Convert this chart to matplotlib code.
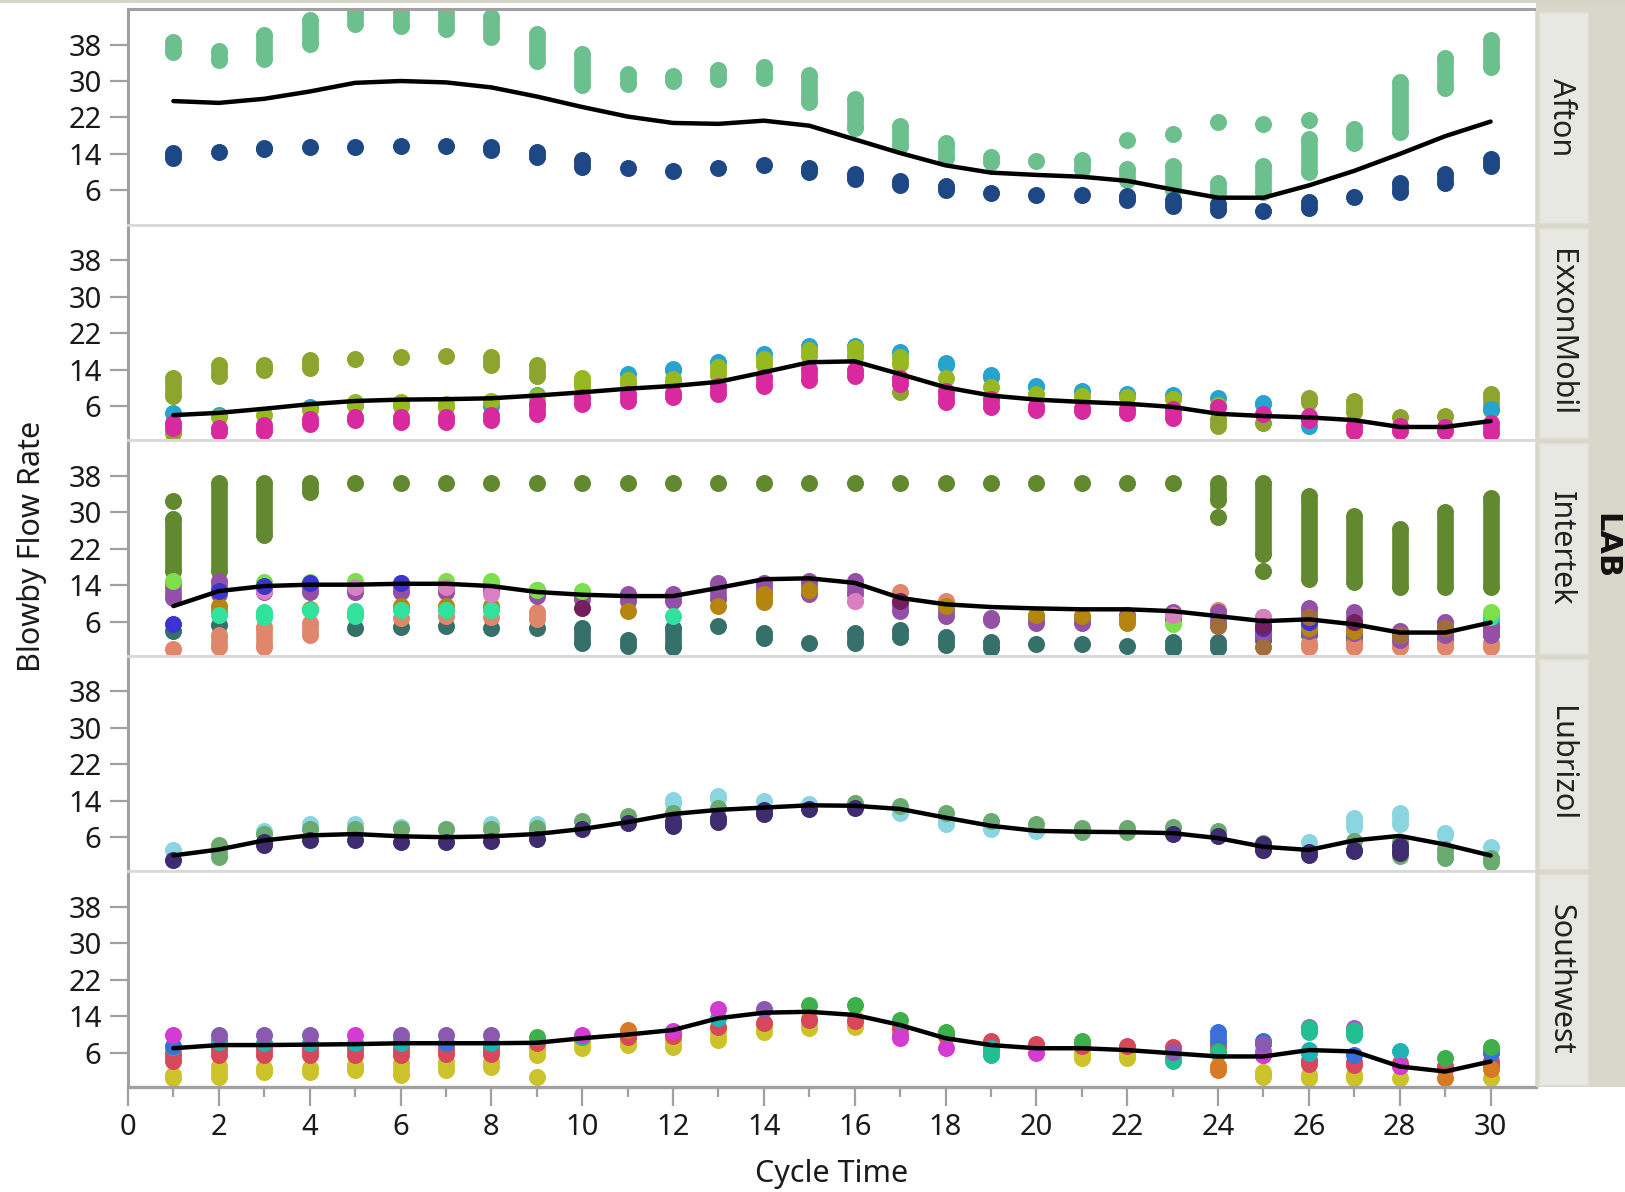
import numpy as np
import matplotlib
matplotlib.use("Agg")
import matplotlib.pyplot as plt
from matplotlib.patches import Rectangle

plt.rcParams['font.family'] = ['Noto Sans', 'DejaVu Sans']

# ---------------- data ----------------
cycles = list(range(1, 31))
labs = ["Afton", "ExxonMobil", "Intertek", "Lubrizol", "Southwest"]
y_ticks = [6, 14, 22, 30, 38]
x_major = list(range(0, 31, 2))
x_minor = list(range(1, 30, 2))

# --- Afton ---
afton_green_lo = [36.4,34.6,34.8,38.2,42.6,42.1,41.4,39.6,34.3,29.1,29.3,30.0,30.5,30.6,25.4,19.7,15.8,13.1,12.2,12.5,10.8,8.3,6.0,5.6,5.6,10.1,16.3,18.8,28.4,33.0]
afton_green_hi = [38.5,36.6,40.1,43.4,45.0,45.0,45.0,44.0,40.3,35.9,31.6,31.1,32.4,33.0,31.4,26.1,20.2,16.3,13.3,12.5,12.6,10.8,11.3,7.6,11.4,17.2,19.4,29.8,35.0,38.9]
afton_green_out_x = [22, 23, 24, 25, 26]
afton_green_out_y = [17.0, 18.3, 20.9, 20.6, 21.5]
afton_blue_lo = [13.2,14.5,15.0,15.5,15.6,15.7,15.7,14.8,13.4,11.2,11.0,10.3,11.0,11.5,10.0,8.5,7.2,6.0,5.5,5.0,4.9,3.8,2.5,1.6,1.5,2.2,4.6,5.6,7.7,11.3]
afton_blue_hi = [14.2,14.5,15.4,15.5,15.6,15.7,15.7,15.5,14.4,12.6,11.0,10.3,11.0,11.5,11.0,9.5,8.0,7.0,5.5,5.0,4.9,4.8,3.9,3.0,1.5,3.5,4.6,7.6,9.5,12.8]
afton_smooth = [25.6,25.2,26.1,27.7,29.6,30.0,29.7,28.6,26.6,24.3,22.2,20.8,20.6,21.3,20.2,17.2,14.2,11.5,9.9,9.4,9.0,8.1,6.2,4.4,4.4,7.1,10.3,14.0,17.9,21.1]

# --- ExxonMobil ---
exx_olive_x = [1,2,3,4,5,6,7,8,9]
exx_olive_lo = [8.1,12.5,13.8,14.3,16.3,16.7,17.0,15.0,12.5]
exx_olive_hi = [12.2,14.9,14.9,16.2,16.3,16.7,17.0,16.7,14.9]
exx_olive2_x = [1,17,24,25,26,27,28,29,30]
exx_olive2_lo = [0.0,9.0,1.6,2.2,6.9,4.7,3.5,3.8,5.1]
exx_olive2_hi = [0.0,9.0,3.1,2.2,7.8,7.2,3.5,3.8,8.7]
exx_lime_x = [2,3,4,5,6,7,8,9,10,11,12,13,14,15,16,17,18,19,20,21,22,23,24]
exx_lime_lo = [3.5,4.0,5.1,6.3,6.1,5.8,7.2,6.2,10.5,10.9,11.2,12.7,14.9,17.0,16.7,15.2,12.2,10.1,8.7,8.3,8.0,7.6,6.2]
exx_lime_hi = [3.5,4.0,5.1,6.9,6.9,6.5,7.2,8.3,12.2,11.6,12.0,14.5,16.3,18.3,18.7,16.8,12.2,10.1,8.7,8.3,8.0,7.6,6.2]
exx_cyan_x = [1,2,4,5,8,9,10,11,12,13,14,15,16,17,18,19,20,21,22,23,24,25,26,30]
exx_cyan_lo = [4.5,4.0,5.8,6.3,6.1,8.4,11.0,13.0,13.8,15.6,17.4,19.1,19.2,17.8,14.9,12.3,10.1,9.3,8.7,8.5,7.8,6.5,1.6,5.4]
exx_cyan_hi = [4.5,4.0,5.8,6.3,6.1,8.4,11.0,13.0,14.1,15.6,17.4,19.1,19.2,17.8,15.4,12.7,10.4,9.3,8.7,8.5,7.8,6.7,1.6,5.4]
exx_mag_lo = [1.1,0.3,0.6,2.0,2.9,2.5,2.5,2.9,4.3,6.5,7.2,8.0,8.7,10.5,11.6,12.5,10.9,6.9,5.8,5.2,4.8,4.5,3.4,5.8,4.3,2.9,0.6,0.5,0.6,0.0]
exx_mag_hi = [2.2,1.1,1.8,3.2,3.6,3.6,3.6,4.0,6.5,8.0,8.7,8.8,10.5,12.3,14.1,14.0,12.2,9.3,7.5,6.0,5.6,5.3,5.3,5.8,4.3,3.8,1.6,1.6,1.4,2.2]
exx_smooth = [4.0,4.5,5.4,6.4,7.1,7.4,7.5,7.7,8.3,9.0,9.8,10.4,11.3,13.4,15.6,15.8,13.0,10.1,8.3,7.4,6.9,6.5,5.8,4.3,3.8,3.5,2.9,1.4,1.4,2.7]

# --- Intertek ---
int_olive_lo = [17.2,17.2,25.1,34.5,36.5,36.5,36.5,36.5,36.5,36.5,36.5,36.5,36.5,36.5,36.5,36.5,36.5,36.5,36.5,36.5,36.5,36.5,36.5,32.7,20.8,15.3,14.6,13.5,13.5,13.5]
int_olive_hi = [28.5,36.4,36.4,36.4,36.5,36.5,36.5,36.5,36.5,36.5,36.5,36.5,36.5,36.5,36.5,36.5,36.5,36.5,36.5,36.5,36.5,36.5,36.5,36.4,36.4,33.5,29.2,26.4,30.0,33.2]
int_olive_dot_x = [1, 24, 25]
int_olive_dot_y = [32.4, 29.0, 17.2]
int_teal_x = [1,2,5,6,7,8,9,10,11,12,13,14,15,16,17,18,19,20,21,22,23,24,25,26,27,29,30]
int_teal_lo = [4.0,5.3,4.7,4.9,5.1,4.7,4.7,1.2,0.6,0.5,5.0,2.4,1.4,1.2,2.7,0.9,0.3,1.0,1.0,0.7,0.3,0.3,2.0,3.0,2.0,2.0,3.0]
int_teal_hi = [4.0,5.3,4.7,4.9,5.1,4.7,4.7,4.5,2.0,4.5,5.0,3.6,1.4,3.6,4.2,2.7,1.5,1.0,1.0,0.7,1.6,1.6,4.0,5.0,3.0,2.0,5.0]
int_salmon_x = [1,2,3,4,5,6,7,8,9,14,16,17,18,24,26,27,28,29,30]
int_salmon_lo = [0.0,0.5,0.5,3.0,7.5,6.9,7.2,7.0,6.5,11.5,10.5,12.6,10.5,8.5,0.5,0.5,0.5,0.5,0.5]
int_salmon_hi = [0.0,3.1,4.9,5.6,7.5,6.9,7.2,7.0,8.0,11.5,10.5,12.6,10.5,8.5,1.2,1.2,1.2,1.2,1.2]
int_gold_x = [2,4,6,7,8,11,13,14,15,18,20,21,22,26,27,28,29]
int_gold_lo = [8.3,8.7,8.7,8.7,8.7,8.3,9.5,10.3,12.9,9.5,7.5,7.2,5.6,4.5,4.0,3.0,4.5]
int_gold_hi = [9.4,8.7,9.4,9.4,9.4,8.3,9.5,12.0,12.9,9.5,7.5,7.2,6.9,4.5,4.0,3.0,4.5]
int_purple_lo = [11.2,12.0,12.4,12.4,12.4,12.4,12.5,12.4,11.6,11.0,10.5,10.5,11.0,12.0,12.0,12.0,8.3,7.2,6.3,5.6,5.6,6.5,6.3,5.0,3.0,4.0,3.5,2.0,3.0,3.0]
int_purple_hi = [14.8,15.0,14.2,14.0,14.0,14.5,14.5,14.0,13.0,12.5,12.0,12.0,14.5,14.5,15.0,15.0,9.8,8.7,6.9,7.3,7.3,7.5,8.0,8.0,7.0,9.0,8.0,4.0,6.0,7.0]
int_blue_x = [1,2,3,4,6,25,26]
int_blue_y = [5.5,12.7,13.8,14.5,14.5,4.5,6.0]
int_pink_x = [3,5,7,8,16,23,25]
int_pink_y = [12.8,13.5,13.5,12.0,10.5,7.5,7.0]
int_mint_x = [2,3,4,5,6,7,8,12,28,30]
int_mint_lo = [7.5,7.0,8.5,7.3,8.5,8.5,8.5,7.2,3.0,7.0]
int_mint_hi = [7.5,8.2,8.5,8.3,8.5,8.5,8.5,7.2,3.0,7.0]
int_lime_x = [1,3,4,5,7,8,9,10,23,30]
int_lime_y = [15.0,14.8,14.8,15.0,15.0,15.0,13.0,12.8,5.4,8.0]
int_plum_x = [10,17,25,27]
int_plum_y = [9.0,10.5,5.0,6.0]
int_brown_x = [24,25,26,28,29]
int_brown_y = [5.0,0.5,7.0,3.0,4.5]
int_smooth = [9.4,12.7,13.8,14.1,14.1,14.3,14.3,13.8,12.5,11.9,11.6,11.6,13.4,15.3,15.5,14.5,11.2,9.8,9.2,8.9,8.7,8.7,8.3,7.2,6.1,6.5,5.4,3.6,3.6,5.8]

# --- Lubrizol ---
lub_cyan_x = [1,3,4,5,6,7,8,9,12,13,14,15,17,18,19,20,26,27,28,29,30]
lub_cyan_lo = [3.1,7.4,8.8,8.8,8.2,7.8,8.8,8.8,13.6,14.7,14.0,13.2,11.4,8.9,7.8,7.3,4.9,8.3,9.0,6.5,3.8]
lub_cyan_hi = [3.1,7.4,8.8,8.8,8.2,7.8,8.8,8.8,14.2,15.0,14.0,13.2,11.4,10.0,7.8,7.3,4.9,10.2,11.3,6.9,3.8]
lub_green_x = [2,3,4,5,6,7,8,9,10,11,12,13,16,17,18,19,20,21,22,23,24,25,27,28,29,30]
lub_green_lo = [1.7,6.8,7.9,7.9,7.9,7.9,7.9,7.6,9.5,10.7,11.4,12.5,13.6,12.9,11.4,9.6,8.8,7.2,7.1,8.2,7.4,3.2,5.1,1.8,1.4,0.6]
lub_green_hi = [4.2,6.8,7.9,7.9,7.9,7.9,7.9,8.0,9.5,10.7,11.4,12.5,13.6,12.9,11.4,9.6,8.8,8.0,8.0,8.2,7.4,4.8,5.1,4.9,3.5,1.5]
lub_purple_x = [1,3,4,5,6,7,8,9,10,11,12,13,14,15,16,23,24,25,26,27,28]
lub_purple_lo = [0.9,4.2,5.3,5.3,4.9,4.9,5.1,5.6,7.7,9.1,8.5,9.4,11.1,12.2,12.5,6.6,6.2,3.2,2.0,2.9,2.5]
lub_purple_hi = [0.9,4.9,5.3,5.3,4.9,4.9,5.1,5.6,7.7,9.1,9.6,10.3,12.0,12.2,12.5,6.6,6.2,4.5,2.7,3.3,4.0]
lub_smooth = [2.0,3.3,5.3,6.4,6.7,6.2,6.0,6.2,6.7,7.8,9.3,11.1,12.0,12.5,13.0,12.9,12.2,10.3,8.5,7.4,7.2,7.1,6.9,5.8,3.9,3.2,5.3,6.3,4.4,2.0]

# --- Southwest ---
sw_yellow_x = [1,2,3,4,5,6,7,8,9,10,11,12,13,14,15,16,21,22,25,26,27,28,30]
sw_yellow_lo = [0.4,0.8,1.9,1.9,2.2,1.1,2.2,2.9,5.5,7.0,7.7,7.3,8.8,10.6,11.4,11.7,4.9,4.9,0.6,0.4,0.4,0.4,0.4]
sw_yellow_hi = [1.1,3.0,2.6,2.6,3.3,3.7,4.0,4.0,7.0,8.5,8.8,8.8,11.4,12.5,13.6,13.6,5.9,5.9,1.9,1.1,1.1,0.4,0.4]
sw_yellow_dot_x = [9, 17, 18]
sw_yellow_dot_y = [0.6, 11.0, 9.5]
sw_red_lo = [4.1,5.5,5.5,5.5,5.5,5.5,5.7,5.7,8.1,9.5,9.5,9.6,11.7,12.5,13.2,13.0,11.5,9.8,8.5,8.0,7.5,7.5,7.2,7.5,5.5,3.5,3.3,3.0,2.5,3.3]
sw_red_hi = [5.9,7.0,7.0,7.0,7.0,7.0,7.0,7.0,8.1,9.5,9.5,10.2,11.7,12.5,13.2,13.0,11.5,9.8,8.5,8.0,7.5,7.5,7.2,7.5,5.5,4.5,4.0,3.7,3.2,4.1]
sw_teal_x = [1,2,3,4,5,6,7,8,10,13,19,25,26,28,30]
sw_teal_lo = [7.3,8.3,8.1,8.1,8.1,8.1,8.1,8.1,9.5,13.6,6.8,6.5,5.9,6.3,6.6]
sw_teal_hi = [7.3,8.8,8.1,8.1,8.1,8.8,8.1,8.1,9.5,13.6,7.0,6.5,6.6,6.3,6.6]
sw_blue_x = [1,7,24,25,27,30]
sw_blue_lo = [7.6,8.1,8.6,8.7,5.5,5.9]
sw_blue_hi = [7.6,8.1,10.6,8.7,5.5,5.9]
sw_mag_x = [1,5,10,12,13,17,18,20,25,26,27,28]
sw_mag_lo = [9.9,9.9,9.9,10.8,15.7,9.2,7.0,5.9,5.5,11.7,11.4,3.0]
sw_mag_hi = [9.9,9.9,9.9,10.8,15.7,9.8,7.0,5.9,5.5,11.7,11.4,3.0]
sw_green_x = [9,15,16,17,18,21,24,29,30]
sw_green_y = [9.5,16.5,16.5,13.2,10.6,8.6,6.5,4.8,7.2]
sw_tgreen_x = [19,23,24,26,27]
sw_tgreen_lo = [5.5,4.2,6.0,10.6,9.9]
sw_tgreen_hi = [6.6,4.8,6.0,11.4,11.0]
sw_orange_x = [11,24,29,30]
sw_orange_lo = [11.0,2.3,0.4,2.5]
sw_orange_hi = [11.0,3.0,0.4,2.5]
sw_purple_x = [2,3,4,6,7,8,14,23,25]
sw_purple_y = [9.9,9.9,9.9,9.9,9.9,9.9,15.7,6.2,8.0]
sw_smooth = [7.0,7.7,7.7,7.8,7.9,8.1,8.1,8.1,8.2,9.2,10.0,11.0,13.6,14.8,15.0,14.3,12.1,9.2,7.7,7.0,7.0,6.6,5.9,5.2,5.2,6.6,6.3,3.0,1.9,4.1]

# --------------- series per panel (colour, x, lo, hi) ---------------
panels = [
    ([("#6CC08E", cycles, afton_green_lo, afton_green_hi),
      ("#6CC08E", afton_green_out_x, afton_green_out_y, afton_green_out_y),
      ("#1D4785", cycles, afton_blue_lo, afton_blue_hi)], afton_smooth),
    ([("#8DA42E", exx_olive_x, exx_olive_lo, exx_olive_hi),
      ("#8DA42E", exx_olive2_x, exx_olive2_lo, exx_olive2_hi),
      ("#27A3CF", exx_cyan_x, exx_cyan_lo, exx_cyan_hi),
      ("#95B91F", exx_lime_x, exx_lime_lo, exx_lime_hi),
      ("#D82A9E", cycles, exx_mag_lo, exx_mag_hi)], exx_smooth),
    ([("#62892F", cycles, int_olive_lo, int_olive_hi),
      ("#62892F", int_olive_dot_x, int_olive_dot_y, int_olive_dot_y),
      ("#35706A", int_teal_x, int_teal_lo, int_teal_hi),
      ("#E0866A", int_salmon_x, int_salmon_lo, int_salmon_hi),
      ("#9450A6", cycles, int_purple_lo, int_purple_hi),
      ("#B5860F", int_gold_x, int_gold_lo, int_gold_hi),
      ("#30E29C", int_mint_x, int_mint_lo, int_mint_hi),
      ("#7BE04A", int_lime_x, int_lime_y, int_lime_y),
      ("#DA80C0", int_pink_x, int_pink_y, int_pink_y),
      ("#3C34D0", int_blue_x, int_blue_y, int_blue_y),
      ("#74205E", int_plum_x, int_plum_y, int_plum_y),
      ("#A06E3A", int_brown_x, int_brown_y, int_brown_y)], int_smooth),
    ([("#8AD5E0", lub_cyan_x, lub_cyan_lo, lub_cyan_hi),
      ("#6BAA6E", lub_green_x, lub_green_lo, lub_green_hi),
      ("#3F2B6F", lub_purple_x, lub_purple_lo, lub_purple_hi)], lub_smooth),
    ([("#CCC22A", sw_yellow_x, sw_yellow_lo, sw_yellow_hi),
      ("#CCC22A", sw_yellow_dot_x, sw_yellow_dot_y, sw_yellow_dot_y),
      ("#D9485A", cycles, sw_red_lo, sw_red_hi),
      ("#1FB3B3", sw_teal_x, sw_teal_lo, sw_teal_hi),
      ("#3A70D8", sw_blue_x, sw_blue_lo, sw_blue_hi),
      ("#D23CD2", sw_mag_x, sw_mag_lo, sw_mag_hi),
      ("#3DB04C", sw_green_x, sw_green_y, sw_green_y),
      ("#22BF92", sw_tgreen_x, sw_tgreen_lo, sw_tgreen_hi),
      ("#D87A25", sw_orange_x, sw_orange_lo, sw_orange_hi),
      ("#8A5AB0", sw_purple_x, sw_purple_y, sw_purple_y)], sw_smooth),
]

# --------------- layout ---------------
W, H = 1625, 1192
fig = plt.figure(figsize=(W / 100, H / 100), dpi=100, facecolor="white")
LEFT, RIGHT, TOP, BOT = 128, 1536, 9, 1087
ph = (BOT - TOP) / 5
MW = 12.0  # marker diameter in points
AXC = "#A0A0A0"
SEPC = "#D9D9D9"

# background decorations (strip area)
fig.patches.append(Rectangle((RIGHT / W, 1 - BOT / H), (W - RIGHT) / W, BOT / H,
                             transform=fig.transFigure, facecolor="#D9D7CA",
                             edgecolor="none", zorder=0))
fig.patches.append(Rectangle((0, 1 - 2.5 / H), 1, 2.5 / H, transform=fig.transFigure,
                             facecolor="#D6D4C6", edgecolor="none", zorder=0))

for i, (series, smooth) in enumerate(panels):
    top = TOP + i * ph
    ax = fig.add_axes([LEFT / W, 1 - (top + ph) / H, (RIGHT - LEFT) / W, ph / H])
    ax.set_xlim(0, 31)
    ax.set_ylim(-1.5, 45.8)
    for color, xs, lo, hi in series:
        ax.vlines(xs, lo, hi, colors=color, linewidth=MW, capstyle="round", zorder=2)
        ax.scatter(xs, lo, s=MW ** 2, color=color, linewidths=0, zorder=2)
        ax.scatter(xs, hi, s=MW ** 2, color=color, linewidths=0, zorder=2)
    ax.plot(cycles, smooth, color="black", lw=3.2, zorder=5,
            solid_joinstyle="round", solid_capstyle="round")

    for s in ["top", "bottom", "right"]:
        ax.spines[s].set_color(SEPC)
        ax.spines[s].set_linewidth(2.0)
    ax.spines["left"].set_color(AXC)
    ax.spines["left"].set_linewidth(2.2)
    if i == 0:
        ax.spines["top"].set_color(AXC)
        ax.spines["top"].set_linewidth(2.2)
    ax.set_yticks(y_ticks)
    ax.tick_params(axis="y", length=13, width=1.6, color=AXC, labelsize=21,
                   pad=6, labelcolor="#1A1A1A")
    if i < 4:
        ax.tick_params(axis="x", bottom=False, labelbottom=False)
    else:
        ax.spines["bottom"].set_color(AXC)
        ax.spines["bottom"].set_linewidth(2.4)
        ax.set_xticks(x_major)
        ax.set_xticks(x_minor, minor=True)
        ax.tick_params(axis="x", which="major", length=14, width=1.6, color=AXC,
                       labelsize=21, pad=5, labelcolor="#1A1A1A")
        ax.tick_params(axis="x", which="minor", length=7, width=1.6, color=AXC)

    # strip box
    fig.patches.append(Rectangle((1539 / W, 1 - (top + ph - 2) / H), (1588 - 1539) / W,
                                 (ph - 5) / H, transform=fig.transFigure,
                                 facecolor="#E8E8E2", edgecolor="#DEDED6", lw=1, zorder=1))
    fig.text(1561 / W, 1 - (top + ph / 2) / H, labs[i], rotation=270, ha="center",
             va="center", fontsize=22, color="#222222")

fig.text(1606 / W, 1 - 546 / H, "LAB", rotation=270, ha="center", va="center",
         fontsize=22, fontweight="bold", family=["DejaVu Sans"], color="#111111")
fig.text(32 / W, 1 - 546 / H, "Blowby Flow Rate", rotation=90, ha="center",
         va="center", fontsize=22, color="#1A1A1A")
fig.text(832 / W, 1 - 1174 / H, "Cycle Time", ha="center", va="center",
         fontsize=22, color="#1A1A1A")

fig.savefig("out.png", dpi=100, facecolor="white")
